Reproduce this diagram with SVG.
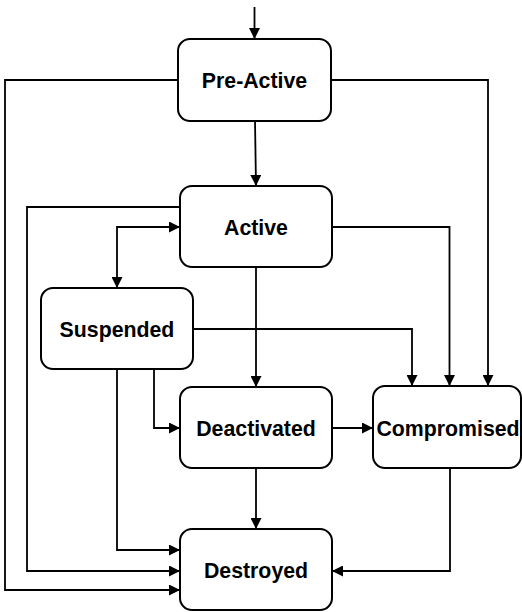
<svg xmlns="http://www.w3.org/2000/svg" width="522" height="612" viewBox="0 0 522 612">
<style>
.box{fill:#fff;stroke:#000;stroke-width:2}
.lbl{font-family:"Liberation Sans",Arial,Helvetica,sans-serif;font-weight:bold;font-size:21.3px;text-anchor:middle;fill:#000}
.edge{fill:none;stroke:#000;stroke-width:1.8;marker-end:url(#arr)}
</style>
<defs>
<marker id="arr" markerUnits="userSpaceOnUse" markerWidth="11" markerHeight="11" refX="11" refY="5.5" orient="auto-start-reverse" viewBox="0 0 11 11">
<path d="M0,0 L11,5.5 L0,11 z" fill="#000"/>
</marker>
</defs>
<g id="connectors">
<path class="edge" d="M254.5,7 V39"/>
<path class="edge" d="M255,121 L256,186"/>
<path class="edge" d="M178,80 H5 V590 H180"/>
<path class="edge" d="M331,80 H488 V386"/>
<path class="edge" d="M180,207 H27 V571 H180"/>
<path class="edge" style="marker-start:url(#arr)" d="M180,227 H117 V288"/>
<path class="edge" d="M332,227 H449.5 V386"/>
<path class="edge" d="M256,267 V387"/>
<path class="edge" d="M193,329 H412 V386"/>
<path class="edge" d="M117,369 V550 H180"/>
<path class="edge" d="M154,369 V428 H180"/>
<path class="edge" d="M332,428 H373"/>
<path class="edge" d="M256,468 V529"/>
<path class="edge" d="M450,468 V571 H332"/>
</g>
<g id="pre-active"><rect class="box" x="178" y="39" width="153" height="82" rx="12"/><text class="lbl" x="254.5" y="88">Pre-Active</text></g>
<g id="active"><rect class="box" x="180" y="186" width="152" height="81" rx="12"/><text class="lbl" x="256" y="235">Active</text></g>
<g id="suspended"><rect class="box" x="41" y="288" width="152" height="81" rx="12"/><text class="lbl" x="117" y="337">Suspended</text></g>
<g id="deactivated"><rect class="box" x="180" y="387" width="152" height="81" rx="12"/><text class="lbl" x="256" y="436">Deactivated</text></g>
<g id="compromised"><rect class="box" x="373" y="386" width="148" height="82" rx="12"/><text class="lbl" x="448" y="436">Compromised</text></g>
<g id="destroyed"><rect class="box" x="180" y="529" width="152" height="81" rx="12"/><text class="lbl" x="256" y="578">Destroyed</text></g>
</svg>
